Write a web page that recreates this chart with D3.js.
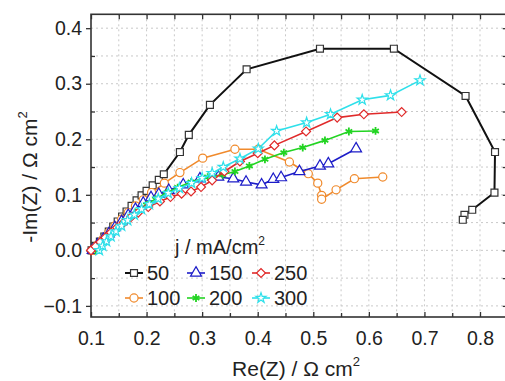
<!DOCTYPE html>
<html>
<head>
<meta charset="utf-8">
<script src="https://cdn.jsdelivr.net/npm/d3@7"></script>
<style>
  body { margin: 0; background: #fff; }
  svg text { font-family: "Liberation Sans", Arial, sans-serif; fill: #222; }
</style>
</head>
<body>
<div class="chart"></div>
<script>
// current densities (legend labels, mA/cm2)
const currents = ["50", "100", "150", "200", "250", "300"];

// Nyquist points [Re(Z), -Im(Z)] in ohm cm2
const s50 = [[0.101,0.0],[0.108,0.008],[0.116,0.016],[0.124,0.025],[0.132,0.034],[0.140,0.043],[0.148,0.052],
  [0.156,0.061],[0.164,0.070],[0.173,0.080],[0.182,0.090],[0.191,0.099],[0.200,0.107],[0.211,0.117],[0.222,0.127],
  [0.231,0.137],[0.260,0.177],[0.276,0.208],[0.314,0.262],[0.380,0.326],[0.512,0.363],[0.645,0.363],[0.774,0.278],
  [0.827,0.177],[0.826,0.104],[0.786,0.073],[0.772,0.064],[0.769,0.055]];
const s100 = [[0.103,0.0],[0.112,0.010],[0.122,0.021],[0.132,0.032],[0.143,0.044],[0.155,0.056],[0.167,0.068],
  [0.180,0.080],[0.194,0.091],[0.209,0.104],[0.232,0.121],[0.260,0.140],[0.301,0.166],[0.359,0.182],[0.401,0.182],
  [0.457,0.159],[0.491,0.138],[0.508,0.121],[0.515,0.099],[0.515,0.092],[0.541,0.109],[0.574,0.129],[0.625,0.132]];
const s150 = [[0.103,0.0],[0.112,0.010],[0.122,0.020],[0.132,0.030],[0.143,0.041],[0.155,0.052],[0.167,0.063],
  [0.180,0.074],[0.194,0.085],[0.208,0.095],[0.222,0.101],[0.240,0.108],[0.266,0.118],[0.296,0.129],[0.329,0.132],
  [0.356,0.129],[0.379,0.123],[0.407,0.118],[0.428,0.128],[0.442,0.131],[0.475,0.142],[0.512,0.152],[0.527,0.156],
  [0.577,0.183]];
const s200 = [[0.108,0.0],[0.116,0.009],[0.125,0.018],[0.135,0.028],[0.146,0.038],[0.158,0.049],[0.171,0.060],
  [0.185,0.071],[0.200,0.082],[0.216,0.092],[0.235,0.103],[0.256,0.113],[0.280,0.123],[0.310,0.132],[0.337,0.136],
  [0.359,0.142],[0.385,0.152],[0.413,0.164],[0.447,0.176],[0.481,0.185],[0.521,0.198],[0.564,0.214],[0.612,0.215]];
const s250 = [[0.100,0.0],[0.108,0.007],[0.117,0.015],[0.126,0.023],[0.136,0.032],[0.147,0.041],[0.159,0.050],
  [0.172,0.060],[0.185,0.068],[0.203,0.078],[0.224,0.088],[0.243,0.096],[0.263,0.102],[0.280,0.106],[0.298,0.114],
  [0.318,0.126],[0.340,0.142],[0.368,0.160],[0.400,0.175],[0.430,0.189],[0.487,0.214],[0.543,0.239],[0.591,0.245],
  [0.659,0.249]];
const s300 = [[0.115,0.0],[0.121,0.008],[0.128,0.016],[0.136,0.025],[0.145,0.034],[0.155,0.044],[0.166,0.054],
  [0.178,0.064],[0.191,0.074],[0.205,0.083],[0.221,0.093],[0.239,0.103],[0.259,0.112],[0.281,0.121],[0.300,0.130],
  [0.318,0.139],[0.338,0.150],[0.368,0.165],[0.401,0.183],[0.434,0.215],[0.488,0.230],[0.531,0.245],[0.588,0.271],
  [0.639,0.279],[0.692,0.306]];

// axis ticks
const xTicks = [0.1, 0.2, 0.3, 0.4, 0.5, 0.6, 0.7, 0.8];
const yTicks = [-0.1, 0.0, 0.1, 0.2, 0.3, 0.4];

const seriesData = [s50, s100, s150, s200, s250, s300];
const colors = ["#111111", "#f08a2c", "#1c1cc8", "#22d422", "#e02a2a", "#2ee0ea"];
const markers = ["square", "circle", "triangle", "asterisk", "diamond", "star"];

const W = 505, H = 381;
const svg = d3.select(".chart").append("svg").attr("width", W).attr("height", H);

// plot area
const x = d3.scaleLinear().domain([0.1, 0.85]).range([91, 507.8]);
const y = d3.scaleLinear().domain([-0.12, 0.425]).range([317, 14.3]);
const pLeft = x.range()[0], pRight = x.range()[1], pTop = y.range()[1], pBottom = y.range()[0];

// dotted grid every 0.05
const gridX = d3.range(0.15, 0.85, 0.05);
const gridY = d3.range(-0.1, 0.42, 0.05);
const grid = svg.append("g").attr("stroke", "#c9c9c9").attr("stroke-dasharray", "2,3").attr("stroke-width", 1);
grid.selectAll(".gx").data(gridX).enter().append("line")
  .attr("x1", d => x(d)).attr("x2", d => x(d)).attr("y1", pTop).attr("y2", pBottom);
grid.selectAll(".gy").data(gridY).enter().append("line")
  .attr("x1", pLeft).attr("x2", pRight).attr("y1", d => y(d)).attr("y2", d => y(d));

// axes: bottom/top inward, left major out + minor in
const axisCol = "#333";
const minorX = d3.range(0.15, 0.85, 0.1);
const minorY = d3.range(-0.05, 0.42, 0.1);

function styleAxis(g) {
  g.select(".domain").remove();
  g.selectAll(".tick line").attr("stroke", axisCol).attr("stroke-width", 1.3);
  g.selectAll(".tick text").style("font-size", "19.5px").attr("fill", "#222");
}

svg.append("g").attr("transform", "translate(0," + pBottom + ")")
  .call(d3.axisBottom(x).tickValues(xTicks).tickSizeInner(-5).tickPadding(14).tickFormat(d3.format(".1f")))
  .call(styleAxis);
svg.append("g").attr("transform", "translate(0," + pBottom + ")")
  .call(d3.axisBottom(x).tickValues(minorX).tickSizeInner(-4).tickFormat(""))
  .call(styleAxis);
svg.append("g").attr("transform", "translate(0," + pTop + ")")
  .call(d3.axisTop(x).tickValues(xTicks.concat(minorX)).tickSizeInner(-5).tickFormat(""))
  .call(styleAxis);

svg.append("g").attr("transform", "translate(" + pLeft + ",0)")
  .call(d3.axisLeft(y).tickValues(yTicks).tickSizeInner(5).tickPadding(4).tickFormat(d3.format(".1f")))
  .call(styleAxis);
svg.append("g").attr("transform", "translate(" + pLeft + ",0)")
  .call(d3.axisLeft(y).tickValues(minorY).tickSizeInner(-4).tickFormat(""))
  .call(styleAxis);
svg.append("g").attr("transform", "translate(" + pRight + ",0)")
  .call(d3.axisRight(y).tickValues(yTicks.concat(minorY)).tickSizeInner(-5).tickFormat(""))
  .call(styleAxis);

// frame
svg.append("rect").attr("x", pLeft).attr("y", pTop).attr("width", pRight - pLeft).attr("height", pBottom - pTop)
  .attr("fill", "none").attr("stroke", axisCol).attr("stroke-width", 1.6);

// marker paths
function markerPath(kind) {
  switch (kind) {
    case "square": return d3.symbol().type(d3.symbolSquare).size(48)();
    case "circle": return d3.symbol().type(d3.symbolCircle).size(52)();
    case "triangle": return d3.symbol().type(d3.symbolTriangle).size(52)();
    case "asterisk": return d3.symbol().type(d3.symbolAsterisk).size(42)();
    case "diamond": return d3.symbol().type(d3.symbolSquare).size(40)();
    case "star": return d3.symbol().type(d3.symbolStar).size(32)();
  }
}

function drawMarker(g, kind, color, px, py) {
  let m = g.append("path")
    .attr("d", markerPath(kind))
    .attr("transform", "translate(" + px + "," + py + ")" + (kind == "diamond" ? " rotate(45)" : ""))
    .attr("stroke", kind == "square" ? "#333" : color)
    .attr("stroke-width", 1.2)
    .attr("fill", "#fff");
  if (kind == "asterisk") m.attr("fill", "none").attr("stroke-width", 1.8);
  return m;
}

const line = d3.line().x(d => x(d[0])).y(d => y(d[1]));

seriesData.forEach((pts, i) => {
  let g = svg.append("g");
  g.append("path").datum(pts)
    .attr("d", line)
    .attr("fill", "none")
    .attr("stroke", colors[i])
    .attr("stroke-width", i == 0 ? 2 : 1.6);
  pts.forEach(p => drawMarker(g, markers[i], colors[i], x(p[0]), y(p[1])));
});

// legend
const legend = svg.append("g");
const lt = legend.append("text").attr("x", 175).attr("y", 254).style("font-size", "20px").text("j / mA/cm");
lt.append("tspan").attr("dy", -9).style("font-size", "12px").text("2");

const colX = [134, 196, 261];
const rowY = [273, 298];
// legend order: column-wise like the figure
const legendPos = [[0, 0], [0, 1], [1, 0], [1, 1], [2, 0], [2, 1]];
currents.forEach((c, i) => {
  let cx = colX[legendPos[i][0]], cy = rowY[legendPos[i][1]];
  legend.append("line").attr("x1", cx - 9).attr("x2", cx + 9).attr("y1", cy).attr("y2", cy)
    .attr("stroke", colors[i]).attr("stroke-width", i == 0 ? 2 : 1.6);
  drawMarker(legend, markers[i], colors[i], cx, cy);
  legend.append("text").attr("x", cx + 13).attr("y", cy + 7).style("font-size", "20px").text(c);
});

// axis titles
const xt = svg.append("text").attr("x", 296).attr("y", 376).attr("text-anchor", "middle")
  .style("font-size", "21px").text("Re(Z) / \u03a9 cm");
xt.append("tspan").attr("dy", -10).style("font-size", "13px").text("2");

const yt = svg.append("text").attr("transform", "translate(37,177) rotate(-90)").attr("text-anchor", "middle")
  .style("font-size", "21px").text("-Im(Z) / \u03a9 cm");
yt.append("tspan").attr("dy", -10).style("font-size", "13px").text("2");
</script>
</body>
</html>
